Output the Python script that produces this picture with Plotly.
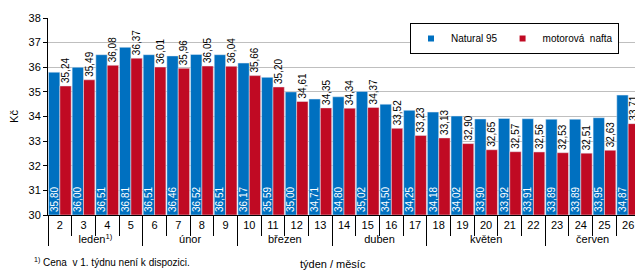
import plotly.graph_objects as go

weeks = [str(w) for w in range(2, 27)]
months = (["leden<sup>1)</sup>"] * 4 + ["únor"] * 4 + ["březen"] * 4 + ["duben"] * 4
          + ["květen"] * 5 + ["červen"] * 4)
natural95 = [35.80, 36.00, 36.51, 36.81, 36.51, 36.46, 36.52, 36.51, 36.17, 35.59, 35.00, 34.71,
             34.80, 35.02, 34.50, 34.25, 34.18, 34.02, 33.90, 33.92, 33.91, 33.89, 33.89, 33.95, 34.87]
nafta = [35.24, 35.49, 36.08, 36.37, 36.01, 35.96, 36.05, 36.04, 35.66, 35.20, 34.61, 34.35,
         34.34, 34.37, 33.52, 33.23, 33.13, 32.90, 32.65, 32.57, 32.56, 32.53, 32.51, 32.63, 33.71]
y_min = 30
series_names = ["Natural 95", "motorová  nafta"]
series_colors = ["#0070C0", "#C00A23"]

def fmt(v):
    return f"{v:.2f}".replace(".", ",")

x = [months, weeks]
font = "Liberation Sans, Arial, sans-serif"

W, H = 643, 275
ML, MR, MT, MB = 40, 11, 10, 68
plot_h = H - MT - MB
plot_w = W - ML - MR

def py(px):  # figure pixel y -> paper fraction
    return (H - MB - px) / plot_h

def px_(pxx):  # figure pixel x -> paper fraction
    return (pxx - ML) / plot_w

fig = go.Figure()
fig.add_trace(go.Bar(
    x=x, y=[v - y_min for v in natural95], base=y_min, name=series_names[0],
    marker_color=series_colors[0], showlegend=False,
    text=[fmt(v) for v in natural95], textposition="inside", insidetextanchor="start",
    textangle=-90, constraintext="none", textfont=dict(color="white", size=10, family=font),
    cliponaxis=False,
))
fig.add_trace(go.Bar(
    x=x, y=[v - y_min for v in nafta], base=y_min, name=series_names[1],
    marker_color=series_colors[1], showlegend=False,
    text=[fmt(v) for v in nafta], textposition="outside",
    textangle=-90, constraintext="none", textfont=dict(color="black", size=10, family=font),
    cliponaxis=False,
))
# legend proxies with small square symbols
for nm, col in zip(series_names, series_colors):
    fig.add_trace(go.Scatter(x=[None], y=[None], mode="markers", name=nm,
                             marker=dict(symbol="square", size=6, color=col)))

fig.update_layout(
    width=W, height=H,
    margin=dict(l=ML, r=MR, t=MT, b=MB),
    paper_bgcolor="white", plot_bgcolor="white",
    barmode="group", bargap=0.04, bargroupgap=0,
    font=dict(family=font, size=11, color="black"),
    showlegend=True,
    legend=dict(orientation="h", x=px_(402), y=py(15), xanchor="left", yanchor="top",
                bordercolor="black", borderwidth=1, bgcolor="white",
                font=dict(size=10, family=font), itemwidth=30, tracegroupgap=0),
    xaxis=dict(type="multicategory", showline=True, linecolor="black", linewidth=1,
               ticks="outside", tickson="boundaries", ticklen=20, tickcolor="black",
               showdividers=True, dividercolor="black", dividerwidth=1, tickangle=0,
               tickfont=dict(size=11, family=font), showgrid=False, automargin=False),
    yaxis=dict(range=[30, 38], dtick=1, showgrid=True, gridcolor="#BFBFBF", gridwidth=1,
               showline=True, linecolor="black", ticks="outside", ticklen=4, tickcolor="black",
               tickfont=dict(size=11, family=font), automargin=False,
               title=dict(text="Kč", font=dict(size=11, family=font), standoff=8),
               zeroline=False),
)

fig.add_annotation(text="týden / měsíc", xref="paper", yref="paper", x=px_(325), y=py(256),
                   showarrow=False, yanchor="middle", font=dict(size=11, family=font))
fig.add_annotation(text="<sup>1)</sup> Cena  v 1. týdnu není k dispozici.", xref="paper", yref="paper",
                   x=px_(24), y=py(254), xanchor="left", yanchor="middle", showarrow=False,
                   font=dict(size=10, family=font))

fig.write_html("out.html")
